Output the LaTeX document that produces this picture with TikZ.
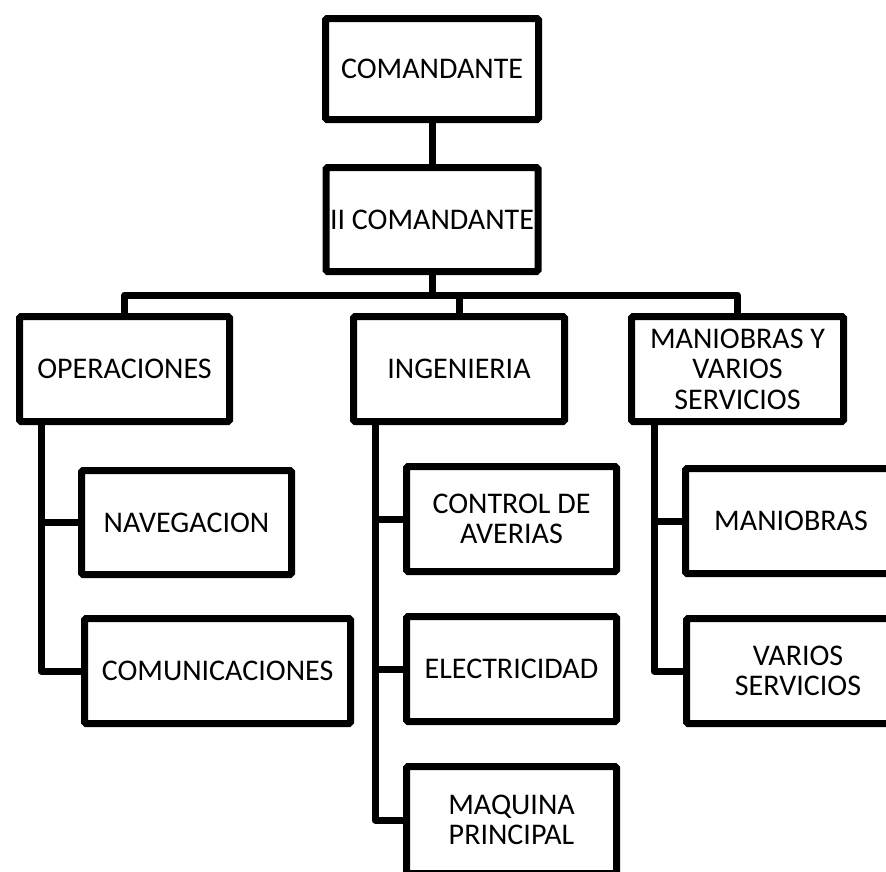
\documentclass[tikz,border=0pt]{standalone}
\usepackage{fontspec}
\setmainfont{Carlito}
\begin{document}
\begin{tikzpicture}[x=1pt,y=-1pt,
  orgbox/.style={draw=black,line width=7pt,rounded corners=1.5pt,inner sep=0pt,
    align=center,font=\fontsize{30}{30.5}\selectfont,minimum height=105pt},
  link/.style={draw=black,line width=7pt,line join=round,line cap=butt}]
\useasboundingbox (0,0) rectangle (886,871);
\clip (0,0) rectangle (886,871);
\fill[white] (0,0) rectangle (886,871);
% nodes
\node[orgbox,minimum width=213pt,minimum height=101pt] (cmd) at (432,69) {COMANDANTE};
\node[orgbox,minimum width=212pt,minimum height=104pt] (iicmd) at (432,219.5) {II COMANDANTE};
\node[orgbox,minimum width=210pt] (ops) at (124.5,369) {OPERACIONES};
\node[orgbox,minimum width=211pt] (ing) at (459,369) {INGENIERIA};
\node[orgbox,minimum width=212pt] (mvs) at (737.5,369) {MANIOBRAS Y\\VARIOS\\SERVICIOS};
\node[orgbox,minimum width=210pt,minimum height=104pt] (nav) at (186.5,522.5) {NAVEGACION};
\node[orgbox,minimum width=266pt] (comu) at (217.5,671) {COMUNICACIONES};
\node[orgbox,minimum width=210pt] (ctrl) at (511.5,519) {CONTROL DE\\AVERIAS};
\node[orgbox,minimum width=210pt] (elec) at (511.5,669) {ELECTRICIDAD};
\node[orgbox,minimum width=210pt,minimum height=107pt] (maq) at (511.5,820) {MAQUINA\\PRINCIPAL};
\node[orgbox,minimum width=211pt] (man) at (791,521) {MANIOBRAS};
\node[orgbox,minimum width=223pt] (vs) at (798,671) {VARIOS\\SERVICIOS};
% helper coordinates
\coordinate (bus) at (432,295);
\coordinate (opsx) at (41,0);
\coordinate (ingx) at (375,0);
\coordinate (mvsx) at (654,0);
% connectors
\draw[link] (cmd.south) -- (iicmd.north);
\draw[link] (iicmd.south) -- (bus);
\draw[link] (ops.north) |- (bus) -| (mvs.north);
\draw[link] (ing.north) -- (ing.north |- bus);
\draw[link] (ops.south -| opsx) |- (comu.west);
\draw[link] (nav.west) -- (nav.west -| opsx);
\draw[link] (ing.south -| ingx) |- (maq.west);
\draw[link] (ctrl.west) -- (ctrl.west -| ingx);
\draw[link] (elec.west) -- (elec.west -| ingx);
\draw[link] (mvs.south -| mvsx) |- (vs.west);
\draw[link] (man.west) -- (man.west -| mvsx);
\end{tikzpicture}
\end{document}
